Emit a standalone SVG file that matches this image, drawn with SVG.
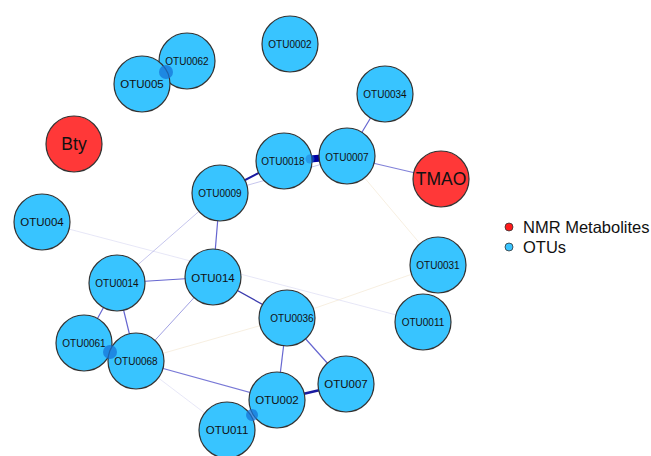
<svg xmlns="http://www.w3.org/2000/svg" width="651" height="456" viewBox="0 0 651 456">
<style>
.n{stroke:#333;stroke-width:1.2}
.o{fill:#38C4FF}
.m{fill:#FF3838}
text{font-family:"Liberation Sans",Arial,sans-serif;fill:#111;text-anchor:middle}
.s{font-size:10px}
.l{font-size:11.5px}
.b{font-size:17.5px}
.e{fill:none;stroke-linecap:round}
.e1{stroke:#4B4BC8;stroke-width:1.2;opacity:.85}
.e2{stroke:#1a1aa0;stroke-width:2}
.e3{stroke:#8080D8;stroke-width:1;opacity:.45}
.e4{stroke:#F0E2C8;stroke-width:1;opacity:.55}
.e5{stroke:#B0B0E6;stroke-width:1;opacity:.3}
.blob{fill:#1574D8;opacity:.75}
</style>
<rect width="651" height="456" fill="#fff"/>
<g id="edges">
<line class="e e5" x1="42" y1="222" x2="423" y2="322"/>
<line class="e e3" x1="220" y1="193" x2="347" y2="157"/>
<line class="e e4" x1="347" y1="157" x2="438" y2="265"/>
<line class="e e3" x1="220" y1="193" x2="117" y2="283"/>
<line class="e e4" x1="136" y1="361" x2="287" y2="318"/>
<line class="e e4" x1="287" y1="318" x2="438" y2="265"/>
<line class="e e5" x1="136" y1="361" x2="227" y2="430"/>
<line class="e e1" x1="385" y1="94" x2="347" y2="157"/>
<line class="e e1" x1="347" y1="157" x2="441" y2="179" style="opacity:.7"/>
<line class="e e2" x1="282" y1="161" x2="220" y2="193"/>
<line class="e e1" x1="220" y1="193" x2="213" y2="277"/>
<line class="e e1" x1="213" y1="277" x2="117" y2="283"/>
<line class="e e2" x1="213" y1="277" x2="287" y2="318" style="stroke-width:1.4;opacity:.85"/>
<line class="e e3" x1="213" y1="277" x2="136" y2="361" style="opacity:.75"/>
<line class="e e1" x1="117" y1="283" x2="84" y2="343"/>
<line class="e e1" x1="117" y1="283" x2="136" y2="361"/>
<line class="e e1" x1="136" y1="361" x2="277" y2="400" style="opacity:.75"/>
<line class="e e1" x1="287" y1="318" x2="277" y2="400"/>
<line class="e e1" x1="287" y1="318" x2="346" y2="384"/>
<line class="e e2" x1="277" y1="400" x2="346" y2="384" style="stroke-width:2.5"/>
<line x1="310" y1="159" x2="322" y2="158" stroke="#0000A0" stroke-width="7"/>
</g>
<g id="OTU0062"><circle class="n o" cx="187" cy="61" r="28"/><text class="s" x="187" y="64.5">OTU0062</text></g>
<g id="OTU005"><circle class="n o" cx="142" cy="84" r="28"/><text class="l" x="142" y="88">OTU005</text></g>
<g id="OTU0002"><circle class="n o" cx="290" cy="44" r="28"/><text class="s" x="290" y="47.5">OTU0002</text></g>
<g id="OTU0034"><circle class="n o" cx="385" cy="94" r="28"/><text class="s" x="385" y="97.5">OTU0034</text></g>
<g id="Bty"><circle class="n m" cx="74" cy="144" r="28"/><text class="b" x="74" y="150">Bty</text></g>
<g id="OTU0018"><circle class="n o" cx="284" cy="161" r="28"/><text class="s" x="283" y="165">OTU0018</text></g>
<g id="OTU0007"><circle class="n o" cx="347" cy="156" r="28"/><text class="s" x="347" y="161">OTU0007</text></g>
<g id="TMAO"><circle class="n m" cx="441" cy="179" r="28"/><text class="b" x="441" y="185">TMAO</text></g>
<g id="OTU0009"><circle class="n o" cx="220" cy="193" r="28"/><text class="s" x="220" y="196.5">OTU0009</text></g>
<g id="OTU004"><circle class="n o" cx="42" cy="222" r="28"/><text class="l" x="42" y="226">OTU004</text></g>
<g id="OTU0031"><circle class="n o" cx="438" cy="265" r="28"/><text class="s" x="438" y="268.5">OTU0031</text></g>
<g id="OTU014"><circle class="n o" cx="213" cy="277" r="28"/><text class="l" x="213" y="282">OTU014</text></g>
<g id="OTU0014"><circle class="n o" cx="117" cy="283" r="28"/><text class="s" x="117" y="286.5">OTU0014</text></g>
<g id="OTU0036"><circle class="n o" cx="287" cy="318" r="28"/><text class="s" x="292" y="321.5">OTU0036</text></g>
<g id="OTU0011"><circle class="n o" cx="423" cy="322" r="28"/><text class="s" x="423" y="325.5">OTU0011</text></g>
<g id="OTU0061"><circle class="n o" cx="84" cy="343" r="28"/><text class="s" x="84" y="347">OTU0061</text></g>
<g id="OTU0068"><circle class="n o" cx="136" cy="361" r="28"/><text class="s" x="136" y="365">OTU0068</text></g>
<g id="OTU007"><circle class="n o" cx="346" cy="384" r="28"/><text class="l" x="346" y="388">OTU007</text></g>
<g id="OTU002"><circle class="n o" cx="277" cy="400" r="28"/><text class="l" x="277" y="404">OTU002</text></g>
<g id="OTU011"><circle class="n o" cx="227" cy="430" r="28"/><text class="l" x="227" y="434">OTU011</text></g>
<g id="edge-blobs">
<circle class="blob" cx="166" cy="72" r="7"/>
<circle class="blob" cx="310" cy="159" r="4.5" style="opacity:.5"/>
<circle class="blob" cx="110" cy="352" r="7"/>
<circle class="blob" cx="252" cy="415" r="6"/>
</g>
<g id="legend">
<circle cx="509" cy="227" r="4" fill="#FF1A1A" stroke="#333" stroke-width=".8"/>
<text x="523" y="233" style="font-size:16.5px;text-anchor:start">NMR Metabolites</text>
<circle cx="509" cy="247" r="4" fill="#38C4FF" stroke="#333" stroke-width=".8"/>
<text x="523" y="253" style="font-size:16.5px;text-anchor:start">OTUs</text>
</g>
</svg>
